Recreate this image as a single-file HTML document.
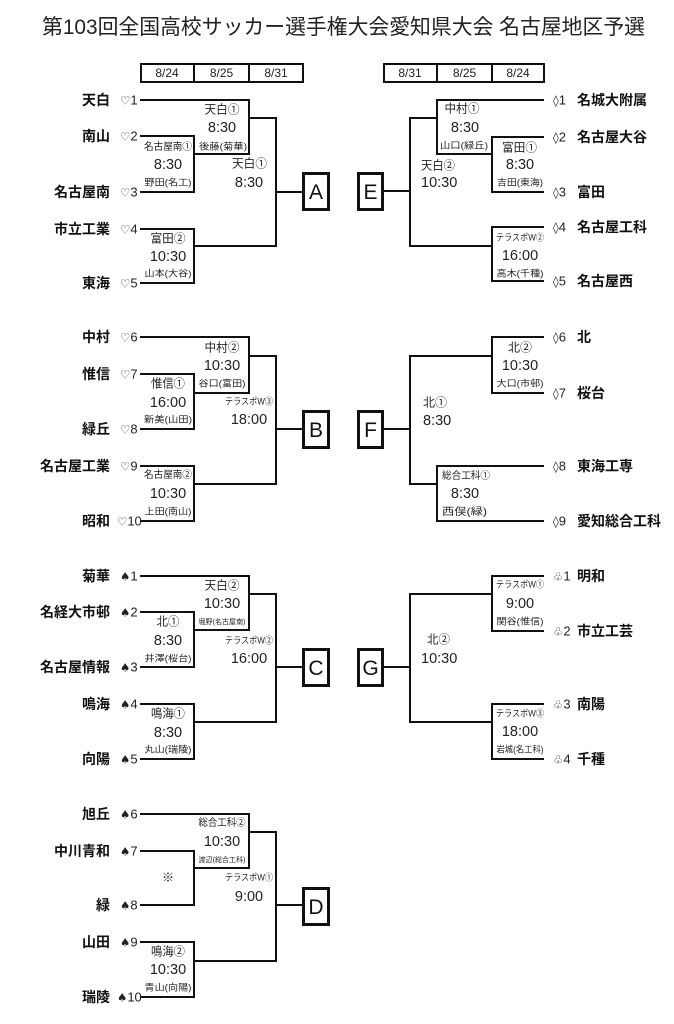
<!DOCTYPE html>
<html><head><meta charset="utf-8"><style>
html,body{margin:0;padding:0;background:#fff;}
svg{display:block;}
text{font-family:"Liberation Sans","Noto Sans CJK JP",sans-serif;}
.n{font-weight:bold;font-size:14px;fill:#111;}
.s{font-size:13px;fill:#222;}
.sy{font-family:"DejaVu Sans",sans-serif;font-size:11.5px;}
.v{font-size:12px;fill:#222;}
.v5{font-size:10px;fill:#222;}
.r{font-size:9px;fill:#222;}
.tm{font-size:14.5px;fill:#222;}
.bx{font-size:21px;fill:#111;}
.d{font-size:12px;fill:#222;}
.ln{fill:none;stroke:#111;stroke-width:2;}
.bl{fill:#fff;stroke:#111;stroke-width:3;}
</style></head><body>
<svg width="674" height="1024" viewBox="0 0 674 1024" xmlns="http://www.w3.org/2000/svg">
<rect width="674" height="1024" fill="#fff"/>
<text x="42" y="34" font-size="21" fill="#222" textLength="603" lengthAdjust="spacingAndGlyphs">第103回全国高校サッカー選手権大会愛知県大会 名古屋地区予選</text>

<!-- date headers -->
<rect x="141" y="64" width="162" height="18" fill="none" stroke="#111" stroke-width="2"/>
<line x1="194" y1="64" x2="194" y2="82" stroke="#111" stroke-width="2"/>
<line x1="249" y1="64" x2="249" y2="82" stroke="#111" stroke-width="2"/>
<text class="d" x="167" y="77" text-anchor="middle">8/24</text>
<text class="d" x="221.5" y="77" text-anchor="middle">8/25</text>
<text class="d" x="276" y="77" text-anchor="middle">8/31</text>
<rect x="384" y="64" width="160" height="18" fill="none" stroke="#111" stroke-width="2"/>
<line x1="437" y1="64" x2="437" y2="82" stroke="#111" stroke-width="2"/>
<line x1="492" y1="64" x2="492" y2="82" stroke="#111" stroke-width="2"/>
<text class="d" x="410" y="77" text-anchor="middle">8/31</text>
<text class="d" x="464.5" y="77" text-anchor="middle">8/25</text>
<text class="d" x="518" y="77" text-anchor="middle">8/24</text>

<!-- LEFT LINES -->
<g class="ln">
<path d="M140,100H249V154H194"/><path d="M140,136H194V192H140"/><path d="M249,118H276V246H194"/><path d="M140,229H194V283H140"/><path d="M276,192H302"/>
<path d="M140,337H249V393H194"/><path d="M140,374H194V429H140"/><path d="M249,356H276V484H194"/><path d="M140,466H194V521H140"/><path d="M276,429H302"/>
<path d="M140,576H249V630H194"/><path d="M140,612H194V667H140"/><path d="M249,594H276V722H194"/><path d="M140,704H194V759H140"/><path d="M276,667H302"/>
<path d="M140,814H249V868H194"/><path d="M140,851H194V905H140"/><path d="M249,832H276V961H194"/><path d="M140,942H194V997H140"/><path d="M276,905H302"/>
<!-- RIGHT LINES -->
<path d="M544,100H437V154H492"/><path d="M544,137H492V192H544"/><path d="M437,118H410V246H492"/><path d="M544,227H492V281H544"/><path d="M410,191H384"/>
<path d="M544,337H492V393H544"/><path d="M492,356H410V484H437"/><path d="M544,466H437V521H544"/><path d="M410,429H384"/>
<path d="M544,576H492V631H544"/><path d="M492,594H410V722H492"/><path d="M544,704H492V759H544"/><path d="M410,667H384"/>
</g>

<!-- boxes -->
<rect class="bl" x="303.5" y="173.5" width="25" height="36"/><text class="bx" x="316" y="199" text-anchor="middle">A</text>
<rect class="bl" x="303.5" y="411.5" width="25" height="36"/><text class="bx" x="316" y="437" text-anchor="middle">B</text>
<rect class="bl" x="303.5" y="649.5" width="25" height="36"/><text class="bx" x="316" y="675" text-anchor="middle">C</text>
<rect class="bl" x="303.5" y="888.5" width="25" height="36"/><text class="bx" x="316" y="914" text-anchor="middle">D</text>
<rect class="bl" x="358.5" y="173.5" width="24" height="36"/><text class="bx" x="370.5" y="199" text-anchor="middle">E</text>
<rect class="bl" x="358.5" y="411.5" width="24" height="36"/><text class="bx" x="370.5" y="437" text-anchor="middle">F</text>
<rect class="bl" x="358.5" y="649.5" width="24" height="36"/><text class="bx" x="370.5" y="675" text-anchor="middle">G</text>

<!-- LEFT TEAM NAMES -->
<g class="n" text-anchor="end">
<text x="110" y="105">天白</text><text x="110" y="141">南山</text><text x="110" y="197">名古屋南</text><text x="110" y="234">市立工業</text><text x="110" y="288">東海</text>
<text x="110" y="342">中村</text><text x="110" y="379">惟信</text><text x="110" y="434">緑丘</text><text x="110" y="471">名古屋工業</text><text x="110" y="526">昭和</text>
<text x="110" y="581">菊華</text><text x="110" y="617">名経大市邨</text><text x="110" y="672">名古屋情報</text><text x="110" y="709">鳴海</text><text x="110" y="764">向陽</text>
<text x="110" y="819">旭丘</text><text x="110" y="856">中川青和</text><text x="110" y="910">緑</text><text x="110" y="947">山田</text><text x="110" y="1002">瑞陵</text>
</g>
<!-- LEFT SEEDS -->
<g class="s">
<text x="120" y="104.5"><tspan class="sy">♡</tspan>1</text>
<text x="120" y="140.5"><tspan class="sy">♡</tspan>2</text>
<text x="120" y="196.5"><tspan class="sy">♡</tspan>3</text>
<text x="120" y="233.5"><tspan class="sy">♡</tspan>4</text>
<text x="120" y="287.5"><tspan class="sy">♡</tspan>5</text>
<text x="120" y="341.5"><tspan class="sy">♡</tspan>6</text>
<text x="120" y="378.5"><tspan class="sy">♡</tspan>7</text>
<text x="120" y="433.5"><tspan class="sy">♡</tspan>8</text>
<text x="120" y="470.5"><tspan class="sy">♡</tspan>9</text>
<text x="117" y="525.5"><tspan class="sy">♡</tspan>10</text>
<text x="120" y="580.5"><tspan class="sy">♠</tspan>1</text>
<text x="120" y="616.5"><tspan class="sy">♠</tspan>2</text>
<text x="120" y="671.5"><tspan class="sy">♠</tspan>3</text>
<text x="120" y="708.5"><tspan class="sy">♠</tspan>4</text>
<text x="120" y="763.5"><tspan class="sy">♠</tspan>5</text>
<text x="120" y="818.5"><tspan class="sy">♠</tspan>6</text>
<text x="120" y="855.5"><tspan class="sy">♠</tspan>7</text>
<text x="120" y="909.5"><tspan class="sy">♠</tspan>8</text>
<text x="120" y="946.5"><tspan class="sy">♠</tspan>9</text>
<text x="117" y="1001.5"><tspan class="sy">♠</tspan>10</text>
</g>

<!-- RIGHT SEEDS -->
<g class="s">
<text x="553" y="104.5"><tspan class="sy">◊</tspan>1</text>
<text x="553" y="141.5"><tspan class="sy">◊</tspan>2</text>
<text x="553" y="196.5"><tspan class="sy">◊</tspan>3</text>
<text x="553" y="231.5"><tspan class="sy">◊</tspan>4</text>
<text x="553" y="285.5"><tspan class="sy">◊</tspan>5</text>
<text x="553" y="341.5"><tspan class="sy">◊</tspan>6</text>
<text x="553" y="397.5"><tspan class="sy">◊</tspan>7</text>
<text x="553" y="470.5"><tspan class="sy">◊</tspan>8</text>
<text x="553" y="525.5"><tspan class="sy">◊</tspan>9</text>
<text x="553" y="580.5"><tspan class="sy">♧</tspan>1</text>
<text x="553" y="635.5"><tspan class="sy">♧</tspan>2</text>
<text x="553" y="708.5"><tspan class="sy">♧</tspan>3</text>
<text x="553" y="763.5"><tspan class="sy">♧</tspan>4</text>
</g>
<!-- RIGHT TEAM NAMES -->
<g class="n">
<text x="577" y="105">名城大附属</text><text x="577" y="142">名古屋大谷</text><text x="577" y="197">富田</text><text x="577" y="232">名古屋工科</text><text x="577" y="286">名古屋西</text>
<text x="577" y="342">北</text><text x="577" y="398">桜台</text><text x="577" y="471">東海工専</text><text x="577" y="526">愛知総合工科</text>
<text x="577" y="581">明和</text><text x="577" y="636">市立工芸</text><text x="577" y="709">南陽</text><text x="577" y="764">千種</text>
</g>

<!-- LEFT MATCH LABELS -->
<g text-anchor="middle">
<!-- A -->
<text class="v" x="222" y="113.5" textLength="35" lengthAdjust="spacingAndGlyphs">天白①</text>
<text class="tm" x="222" y="132">8:30</text>
<text class="r" x="223" y="149.5" textLength="48" lengthAdjust="spacingAndGlyphs">後藤(菊華)</text>
<text class="v5" x="168" y="149.8" textLength="48" lengthAdjust="spacingAndGlyphs">名古屋南①</text>
<text class="tm" x="168" y="169">8:30</text>
<text class="r" x="168" y="185.5" textLength="47" lengthAdjust="spacingAndGlyphs">野田(名工)</text>
<text class="v" x="249.5" y="167.5" textLength="35" lengthAdjust="spacingAndGlyphs">天白①</text>
<text class="tm" x="249" y="187">8:30</text>
<text class="v" x="168" y="242.5" textLength="35" lengthAdjust="spacingAndGlyphs">富田②</text>
<text class="tm" x="168" y="261">10:30</text>
<text class="r" x="168" y="276.5" textLength="47" lengthAdjust="spacingAndGlyphs">山本(大谷)</text>
<!-- B -->
<text class="v" x="222" y="351.5" textLength="35" lengthAdjust="spacingAndGlyphs">中村②</text>
<text class="tm" x="222" y="370">10:30</text>
<text class="r" x="222" y="386.5" textLength="47" lengthAdjust="spacingAndGlyphs">谷口(富田)</text>
<text class="v" x="168" y="387.5" textLength="34" lengthAdjust="spacingAndGlyphs">惟信①</text>
<text class="tm" x="168" y="407">16:00</text>
<text class="r" x="168" y="422.5" textLength="48" lengthAdjust="spacingAndGlyphs">新美(山田)</text>
<text class="r" x="249" y="404.5" textLength="48" lengthAdjust="spacingAndGlyphs">テラスポW③</text>
<text class="tm" x="249" y="424">18:00</text>
<text class="v5" x="168" y="477.8" textLength="48" lengthAdjust="spacingAndGlyphs">名古屋南②</text>
<text class="tm" x="168" y="498">10:30</text>
<text class="r" x="168" y="514.5" textLength="47" lengthAdjust="spacingAndGlyphs">上田(南山)</text>
<!-- C -->
<text class="v" x="222" y="589.5" textLength="35" lengthAdjust="spacingAndGlyphs">天白②</text>
<text class="tm" x="222" y="608">10:30</text>
<text class="r" x="222" y="624" textLength="47" lengthAdjust="spacingAndGlyphs" style="font-size:7px">堀野(名古屋南)</text>
<text class="v" x="168" y="625.5" textLength="23" lengthAdjust="spacingAndGlyphs">北①</text>
<text class="tm" x="168" y="645">8:30</text>
<text class="r" x="168" y="661.5" textLength="47" lengthAdjust="spacingAndGlyphs">井澤(桜台)</text>
<text class="r" x="249" y="643.5" textLength="48" lengthAdjust="spacingAndGlyphs">テラスポW②</text>
<text class="tm" x="249" y="663">16:00</text>
<text class="v" x="168" y="717.5" textLength="34" lengthAdjust="spacingAndGlyphs">鳴海①</text>
<text class="tm" x="168" y="737">8:30</text>
<text class="r" x="168" y="752.5" textLength="47" lengthAdjust="spacingAndGlyphs">丸山(瑞陵)</text>
<!-- D -->
<text class="v5" x="222" y="825.8" textLength="47" lengthAdjust="spacingAndGlyphs">総合工科②</text>
<text class="tm" x="222" y="846">10:30</text>
<text class="r" x="222" y="862" textLength="47" lengthAdjust="spacingAndGlyphs" style="font-size:7px">渡辺(総合工科)</text>
<text class="v" x="168" y="881.5">※</text>
<text class="r" x="249" y="880.5" textLength="48" lengthAdjust="spacingAndGlyphs">テラスポW①</text>
<text class="tm" x="249" y="901">9:00</text>
<text class="v" x="168" y="955.5" textLength="34" lengthAdjust="spacingAndGlyphs">鳴海②</text>
<text class="tm" x="168" y="974">10:30</text>
<text class="r" x="168" y="990.5" textLength="47" lengthAdjust="spacingAndGlyphs">青山(向陽)</text>

<!-- E -->
<text class="v" x="462" y="112.5" textLength="35" lengthAdjust="spacingAndGlyphs">中村①</text>
<text class="tm" x="465" y="132">8:30</text>
<text class="r" x="464" y="148.5" textLength="48" lengthAdjust="spacingAndGlyphs">山口(緑丘)</text>
<text class="v" x="519.5" y="151.5" textLength="35" lengthAdjust="spacingAndGlyphs">富田①</text>
<text class="tm" x="520" y="169">8:30</text>
<text class="r" x="520" y="185.5" textLength="46" lengthAdjust="spacingAndGlyphs">吉田(東海)</text>
<text class="r" x="520" y="240.5" textLength="48" lengthAdjust="spacingAndGlyphs">テラスポW②</text>
<text class="tm" x="520" y="260">16:00</text>
<text class="r" x="520" y="276.5" textLength="47" lengthAdjust="spacingAndGlyphs">高木(千種)</text>
<!-- F -->
<text class="v" x="520" y="351.5" textLength="24" lengthAdjust="spacingAndGlyphs">北②</text>
<text class="tm" x="520" y="370">10:30</text>
<text class="r" x="520" y="386.5" textLength="47" lengthAdjust="spacingAndGlyphs">大口(市邨)</text>
<text class="tm" x="465" y="498">8:30</text>
<!-- G -->
<text class="r" x="520" y="587.5" textLength="48" lengthAdjust="spacingAndGlyphs">テラスポW①</text>
<text class="tm" x="520" y="608">9:00</text>
<text class="r" x="520" y="624.5" textLength="47" lengthAdjust="spacingAndGlyphs">関谷(惟信)</text>
<text class="r" x="520" y="716.5" textLength="48" lengthAdjust="spacingAndGlyphs">テラスポW③</text>
<text class="tm" x="520" y="736">18:00</text>
<text class="r" x="520" y="752.5" textLength="47" lengthAdjust="spacingAndGlyphs">岩城(名工科)</text>
</g>

<!-- left-aligned right-side labels -->
<text class="v" x="421" y="169.5" textLength="34" lengthAdjust="spacingAndGlyphs">天白②</text>
<text class="tm" x="421" y="187">10:30</text>
<text class="v" x="423" y="406.5" textLength="24" lengthAdjust="spacingAndGlyphs">北①</text>
<text class="tm" x="423" y="425">8:30</text>
<text class="v5" x="442" y="478.8" textLength="48" lengthAdjust="spacingAndGlyphs">総合工科①</text>
<text class="v5" x="442" y="514.8" textLength="45" lengthAdjust="spacingAndGlyphs">西俣(緑)</text>
<text class="v" x="427" y="643.5" textLength="23" lengthAdjust="spacingAndGlyphs">北②</text>
<text class="tm" x="421" y="663">10:30</text>
</svg>
</body></html>
